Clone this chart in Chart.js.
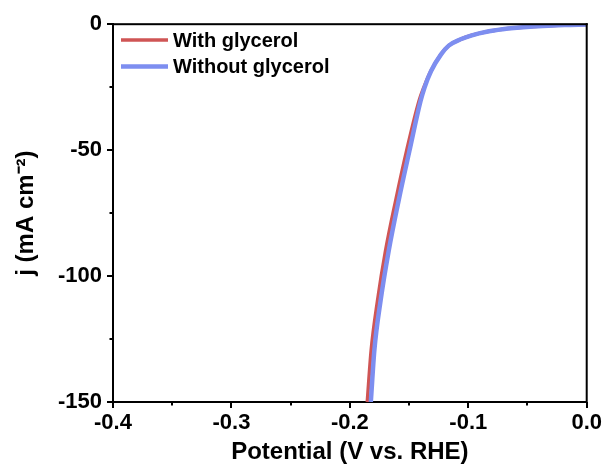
<!DOCTYPE html>
<html>
<head>
<meta charset="utf-8">
<script src="https://cdn.jsdelivr.net/npm/chart.js@4"></script>
<style>
  html, body { margin: 0; padding: 0; background: #fff; }
  #wrap { width: 610px; height: 472px; }
</style>
</head>
<body>
<div id="wrap"><canvas id="lsvChart" width="610" height="472"></canvas></div>
<script>
// LSV curves (potential in V vs. RHE, j in mA cm-2)
const seriesNames = ['With glycerol', 'Without glycerol'];
const withPotential = [-0.1853, -0.1820, -0.1766, -0.1699, -0.1613, -0.1521, -0.1416, -0.1376, -0.1316, -0.1232, -0.1166, -0.1065, -0.0970, -0.0835, -0.0710, -0.0615, -0.0450, -0.0280, -0.0140, 0.0];
const withCurrent   = [-150, -129.4, -109.6, -90, -70, -50.3, -30.5, -25.2, -18.6, -12, -8.5, -6.0, -4.4, -2.9, -2.0, -1.5, -0.9, -0.5, -0.3, -0.1];
const withoutPotential = [-0.1823, -0.1793, -0.1740, -0.1672, -0.1588, -0.1497, -0.1403, -0.1370, -0.1314, -0.1230, -0.1165, -0.1065, -0.0970, -0.0835, -0.0710, -0.0615, -0.0450, -0.0280, -0.0140, 0.0];
const withoutCurrent   = [-150, -129.4, -109.6, -90, -70, -50.3, -30.5, -25.2, -18.6, -12, -8.5, -6.0, -4.4, -2.9, -2.0, -1.5, -0.9, -0.5, -0.3, -0.1];
const xMajorTicks = [-0.4, -0.3, -0.2, -0.1, 0.0];
const yMajorTicks = [-150, -100, -50, 0];

const colors = ['#CF5555', '#7D8EF0'];
const FONT = '"Liberation Sans", Arial, sans-serif';

function toPoints(xs, ys) {
    return xs.map((x, i) => ({ x: x, y: ys[i] }));
}

function isMajor(v, list) {
    return list.some(m => Math.abs(m - v) < 1e-6);
}

// outward tick marks, box edges and the legend inside the plot
const decorations = {
    id: 'decorations',
    afterDraw(chart) {
        const c = chart.ctx;
        const a = chart.chartArea;
        const xs = chart.scales.x, ys = chart.scales.y;
        c.save();
        c.fillStyle = '#000000';
        c.fillRect(a.left, a.top - 1, a.right - a.left + 1, 2);
        c.fillRect(a.right - 1, a.top - 1, 2, a.bottom - a.top + 1);

        xs.ticks.forEach(t => {
            const px = Math.round(xs.getPixelForValue(t.value));
            const len = isMajor(t.value, xMajorTicks) ? 6 : 3.5;
            c.fillRect(px - 1, a.bottom, 2, len);
        });
        ys.ticks.forEach(t => {
            const py = Math.round(ys.getPixelForValue(t.value));
            const len = isMajor(t.value, yMajorTicks) ? 6 : 3.5;
            c.fillRect(a.left - len, py - 1, len, 2);
        });

        // legend
        c.font = 'bold 20px ' + FONT;
        c.textBaseline = 'middle';
        const rows = [40, 66.5];
        chart.data.datasets.forEach((ds, i) => {
            c.strokeStyle = ds.borderColor;
            c.lineWidth = ds.borderWidth;
            c.lineCap = 'butt';
            c.beginPath();
            c.moveTo(121, rows[i]);
            c.lineTo(168, rows[i]);
            c.stroke();
            c.fillStyle = '#000';
            c.fillText(ds.label, 173, rows[i] + 1);
        });
        c.restore();
    }
};

const ctx = document.getElementById('lsvChart').getContext('2d');

new Chart(ctx, {
    type: 'line',
    data: {
        datasets: [{
            label: seriesNames[0],
            data: toPoints(withPotential, withCurrent),
            borderColor: colors[0],
            borderWidth: 3.5,
            order: 1
        }, {
            label: seriesNames[1],
            data: toPoints(withoutPotential, withoutCurrent),
            borderColor: colors[1],
            borderWidth: 4.5,
            order: 0
        }]
    },
    options: {
        responsive: false,
        animation: false,
        events: [],
        cubicInterpolationMode: 'monotone',
        elements: { point: { radius: 0 } },
        layout: { padding: { left: 0, right: 12, top: 23, bottom: 0 } },
        scales: {
            x: {
                type: 'linear',
                min: -0.4,
                max: 0,
                afterFit: s => { s.height = 70; },
                grid: { display: false, drawTicks: false },
                border: { display: true, color: '#000', width: 2 },
                ticks: {
                    stepSize: 0.05,
                    padding: 8,
                    color: '#000',
                    font: { family: FONT, size: 22, weight: 'bold' },
                    callback: v => isMajor(v, xMajorTicks) ? v.toFixed(1) : ''
                },
                title: {
                    display: true,
                    text: 'Potential (V vs. RHE)',
                    color: '#000',
                    font: { family: FONT, size: 24, weight: 'bold' },
                    padding: { top: 0, bottom: 5 }
                }
            },
            y: {
                min: -150,
                max: 0,
                afterFit: s => { s.width = 113; },
                grid: { display: false, drawTicks: false },
                border: { display: true, color: '#000', width: 2 },
                ticks: {
                    stepSize: 25,
                    padding: 11,
                    color: '#000',
                    font: { family: FONT, size: 22, weight: 'bold' },
                    callback: v => isMajor(v, yMajorTicks) ? String(v) : ''
                },
                title: {
                    display: true,
                    text: 'j (mA cm\u207B\u00B2)',
                    color: '#000',
                    font: { family: FONT, size: 24, weight: 'bold' },
                    padding: { top: 12, bottom: 0 }
                }
            }
        },
        plugins: {
            legend: { display: false },
            tooltip: { enabled: false }
        }
    },
    plugins: [decorations]
});
</script>
</body>
</html>
